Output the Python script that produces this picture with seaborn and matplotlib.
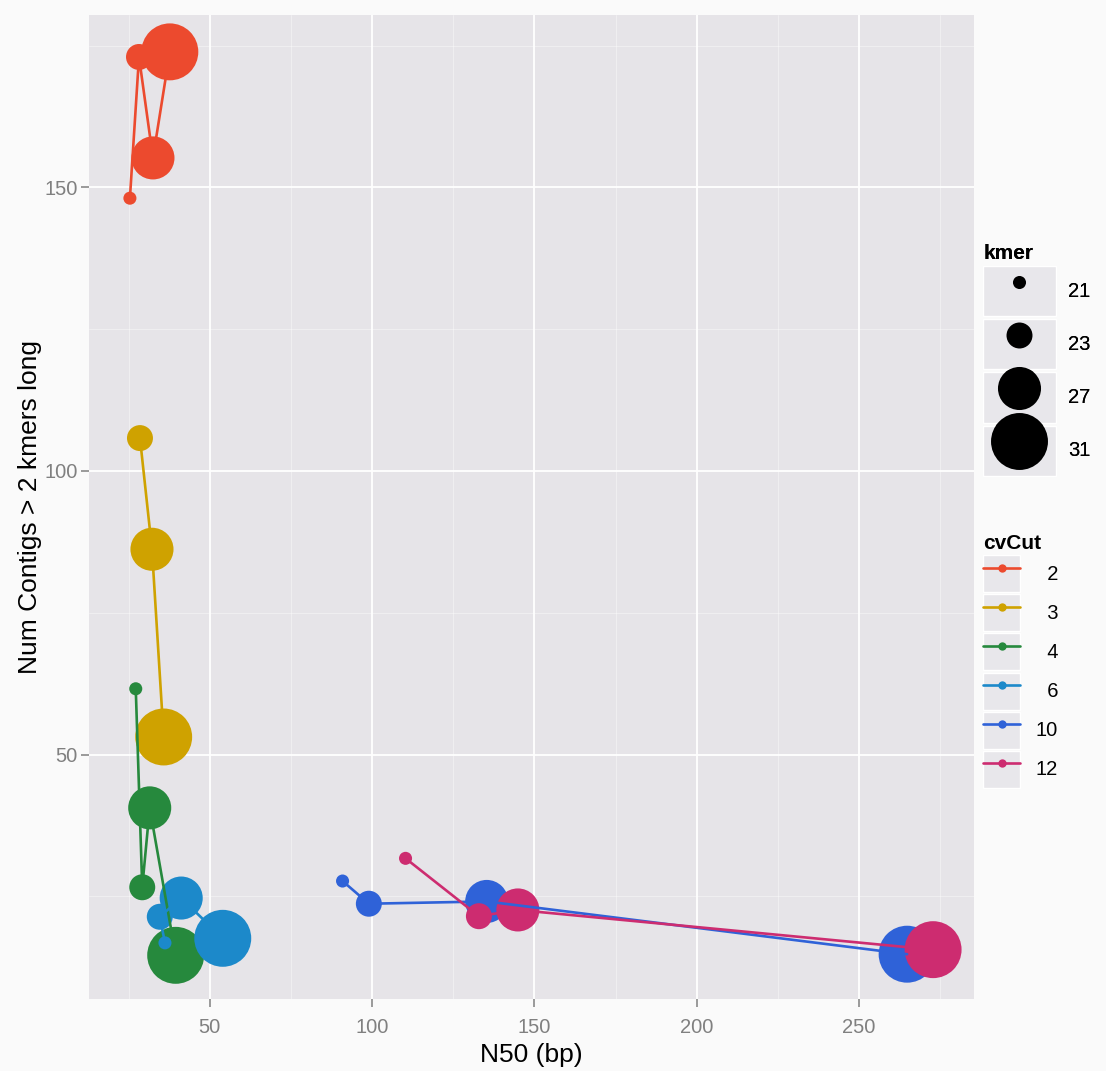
import matplotlib.pyplot as plt
import pandas as pd
import seaborn as sns
from matplotlib.legend_handler import HandlerTuple
from matplotlib.lines import Line2D
from matplotlib.patches import Patch

# values, one row per assembly run
cv_cut = [2, 2, 2, 2, 3, 3, 3, 4, 4, 4, 4, 6, 6, 6, 6, 10, 10, 10, 10, 12, 12, 12, 12]
kmer = [21, 23, 27, 31, 23, 27, 31, 21, 23, 27, 31, 21, 23, 27, 31, 21, 23, 27, 31, 21, 23, 27, 31]
n50 = [25.4, 28.2, 32.5, 37.7,
       28.5, 32.2, 35.8,
       27.2, 29.2, 31.5, 39.5,
       36.2, 34.6, 41.2, 54.0,
       90.9, 99.0, 135.3, 264.8,
       110.3, 132.9, 144.9, 272.8]
num_contigs = [148.1, 173.0, 155.2, 173.9,
               105.8, 86.2, 53.1,
               61.6, 26.6, 40.6, 14.6,
               16.8, 21.4, 24.7, 17.6,
               27.7, 23.7, 24.1, 14.8,
               31.7, 21.5, 22.6, 15.6]

cv_levels = ["2", "3", "4", "6", "10", "12"]
cv_colors = ["#EC4A2E", "#CFA200", "#26893D", "#1C89CA", "#2F62D8", "#CD2C70"]
kmer_levels = [21, 23, 27, 31]
kmer_diam = [9.4, 18.7, 31.0, 41.0]  # marker diameters in points


def main():
    df = pd.DataFrame({
        "cvCut": [str(c) for c in cv_cut],
        "kmer": kmer,
        "N50": n50,
        "contigs": num_contigs,
    })
    palette = dict(zip(cv_levels, cv_colors))
    sizes = {k: d ** 2 for k, d in zip(kmer_levels, kmer_diam)}

    sns.set_theme(style="darkgrid", rc={
        "axes.facecolor": "#E6E4E8",
        "figure.facecolor": "#FAFAFA",
        "grid.color": "white",
        "text.color": "black",
    })
    plt.rcParams["font.family"] = ["Liberation Sans", "DejaVu Sans"]

    fig = plt.figure(figsize=(11.06, 10.71), dpi=100)
    ax = fig.add_axes([89 / 1106, 1 - 999 / 1071, 885 / 1106, 984 / 1071])

    sns.scatterplot(data=df, x="N50", y="contigs", hue="cvCut", size="kmer",
                    hue_order=cv_levels, palette=palette, sizes=sizes,
                    linewidth=0, alpha=1, legend=False, ax=ax, zorder=2)
    sns.lineplot(data=df, x="N50", y="contigs", hue="cvCut", hue_order=cv_levels,
                 palette=palette, sort=False, estimator=None, linewidth=1.9,
                 legend=False, ax=ax, zorder=3)

    ax.set_xlim(12.8, 285.4)
    ax.set_ylim(6.9, 180.4)
    ax.set_xticks([50, 100, 150, 200, 250])
    ax.set_yticks([50, 100, 150])
    ax.set_xticks([25, 75, 125, 175, 225, 275], minor=True)
    ax.set_yticks([25, 75, 125, 175], minor=True)
    ax.grid(which="major", color="white", linewidth=1.3)
    ax.grid(which="minor", color="white", linewidth=0.6, alpha=0.45)
    for s in ax.spines.values():
        s.set_visible(False)
    ax.tick_params(axis="both", which="major", length=6, width=1.1,
                   color="#808080", labelcolor="#808080", labelsize=14.5)
    ax.tick_params(which="minor", length=0)
    ax.tick_params(axis="x", bottom=True, pad=8)
    ax.tick_params(axis="y", left=True, pad=2)
    ax.set_xlabel("N50 (bp)", fontsize=19, color="black", labelpad=4)
    ax.set_ylabel("Num Contigs > 2 kmers long", fontsize=19, color="black", labelpad=2)

    fs = 14.5
    key_bg = "#E8E7EB"
    size_handles = [
        (Patch(facecolor=key_bg, edgecolor="white", linewidth=1),
         Line2D([], [], linestyle="none", marker="o", markersize=d,
                markerfacecolor="black", markeredgewidth=0))
        for d in kmer_diam
    ]
    leg1 = fig.legend(size_handles, [str(k) for k in kmer_levels], title="kmer",
                      handler_map={tuple: HandlerTuple(ndivide=1, pad=0)},
                      loc="upper left", bbox_to_anchor=(0.889, 0.772),
                      frameon=False, fontsize=fs, alignment="left",
                      title_fontproperties={"weight": "bold", "size": 15},
                      handlelength=3.6, handleheight=3.45, labelspacing=0.15,
                      handletextpad=0.6, borderpad=0, borderaxespad=0,
                      labelcolor="black")
    fig.add_artist(leg1)

    cv_handles = [
        (Patch(facecolor=key_bg, edgecolor="white", linewidth=1),
         Line2D([], [], color=c, linewidth=1.9, marker="o", markersize=6,
                markeredgewidth=0))
        for c in cv_colors
    ]
    cv_labels = [lab.rjust(2).replace(" ", "\u2007") for lab in cv_levels]
    fig.legend(cv_handles, cv_labels, title="cvCut",
               handler_map={tuple: HandlerTuple(ndivide=1, pad=0)},
               loc="upper left", bbox_to_anchor=(0.889, 0.501),
               frameon=False, fontsize=fs, alignment="left",
               title_fontproperties={"weight": "bold", "size": 15},
               handlelength=1.85, handleheight=2.45, labelspacing=0.1,
               handletextpad=0.75, borderpad=0, borderaxespad=0,
               labelcolor="black")

    fig.savefig("out.png", dpi=100)


if __name__ == "__main__":
    main()
